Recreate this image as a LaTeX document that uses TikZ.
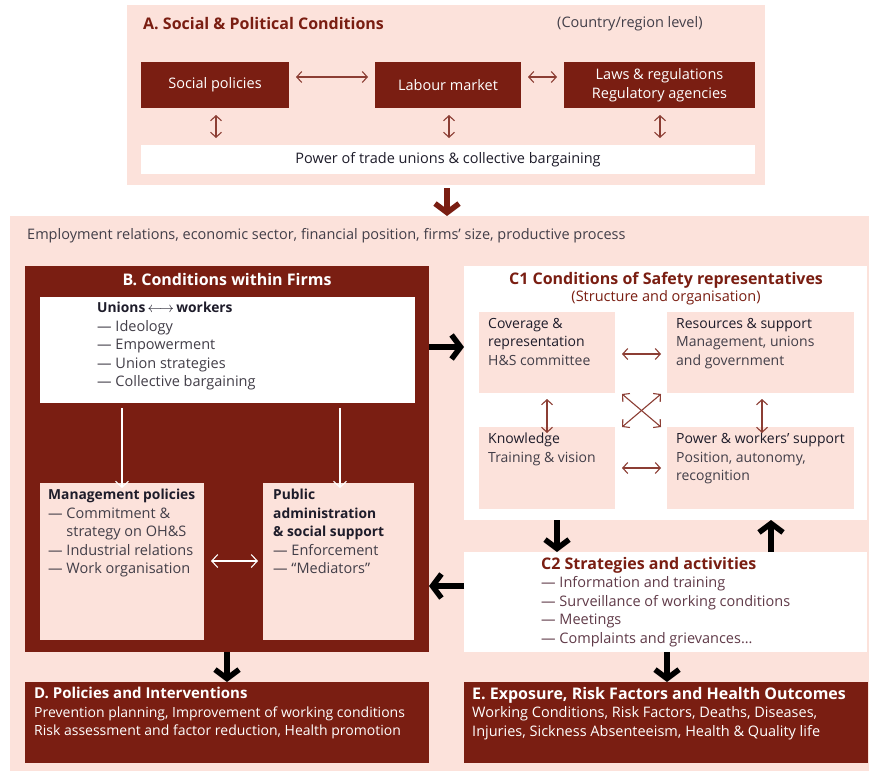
\documentclass[tikz,border=0pt]{standalone}
\usepackage{fontspec}
\setmainfont{Open Sans}
\usetikzlibrary{arrows.meta}
\definecolor{brn}{RGB}{122,30,18}
\definecolor{rose}{RGB}{252,226,219}
\definecolor{arrowbrn}{RGB}{140,62,52}
\definecolor{inktext}{RGB}{30,28,42}
\definecolor{greytext}{RGB}{66,62,72}
\definecolor{listtext}{RGB}{96,58,72}
\newcommand{\bodyfs}{\fontsize{14.5}{18.5}\selectfont}
\newcommand{\narrowfs}{\fontsize{14}{18.5}\selectfont}
\newcommand{\headfs}{\fontsize{13.8}{18.5}\selectfont\bfseries}
\newcommand{\titlefs}{\fontsize{16}{18.5}\selectfont\bfseries}
\begin{document}
\begin{tikzpicture}[x=1pt,y=-1pt,
  panel/.style={draw=none,inner sep=0,outer sep=0},
  pinkpanel/.style={panel,fill=rose},
  whitepanel/.style={panel,fill=white},
  darkpanel/.style={panel,fill=brn,text=white,font=\bodyfs,align=center},
  txt/.style={inner sep=0,anchor=north west,align=left,font=\bodyfs},
  thinarr/.style={draw=arrowbrn,line width=1.1pt,
    {Straight Barb[length=5pt,width=11pt]}-{Straight Barb[length=5pt,width=11pt]}},
  whitearr/.style={draw=white,line width=1.1pt,-{Straight Barb[length=6pt,width=13pt]}},
  whitedbl/.style={draw=white,line width=1.1pt,
    {Straight Barb[length=6pt,width=13pt]}-{Straight Barb[length=6pt,width=13pt]}},
  bigarr/.style={line width=5.5pt,-{Straight Barb[length=9pt,width=24pt]}},
]
\useasboundingbox (0,0) rectangle (869,771);

% ---------- A. Social & political conditions ----------
\node[pinkpanel,minimum width=638pt,minimum height=180pt] (A) at (446,95) {};
\node[txt,anchor=west,font=\titlefs,text=brn] (Atitle) at (143,24) {A. Social \& Political Conditions};
\node[txt,anchor=west,text=greytext] (Alevel) at (557,24) {(Country/region level)};
\node[darkpanel,minimum width=148pt,minimum height=46pt] (sp) at (215,85) {Social policies};
\node[darkpanel,minimum width=146pt,minimum height=46pt] (lm) at (448,85) {Labour market};
\node[darkpanel,minimum width=191pt,minimum height=46pt] (law) at (659.5,85) {Laws \& regulations\\[1pt]Regulatory agencies};
\node[whitepanel,minimum width=614pt,minimum height=29pt,font=\bodyfs,text=inktext] (tu) at (448,159.5) {Power of trade unions \& collective bargaining};

\coordinate (spE) at (296,77); \coordinate (lmW) at (368,77);
\coordinate (lmE) at (528,77); \coordinate (lawW) at (557,77);
\draw[thinarr] (spE) -- (lmW);
\draw[thinarr] (lmE) -- (lawW);
\draw[thinarr] (sp.south -| 216,0) ++(0,7) -- ++(0,23);
\draw[thinarr] (lm.south -| 449,0) ++(0,7) -- ++(0,23);
\draw[thinarr] (law.south -| 660,0) ++(0,7) -- ++(0,23);

% ---------- firm level ----------
\node[pinkpanel,minimum width=859pt,minimum height=555pt] (F) at (439.5,493.5) {};
\draw[bigarr,draw=brn] (A.south -| 447,0) ++(0,3) -- (F.north -| 447,0);
\node[txt,anchor=west,text=greytext] (Fctx) at (27,236) {Employment relations, economic sector, financial position, firms’ size, productive process};

% ---------- B. Conditions within firms ----------
\node[panel,fill=brn,minimum width=404pt,minimum height=386pt] (B) at (227,459) {};
\node[font=\titlefs,text=white,inner sep=0] (Btitle) at (227,280) {B. Conditions within Firms};
\node[whitepanel,minimum width=375pt,minimum height=106pt] (Bu) at (227.5,350) {};
\node[txt,text=greytext] (Butxt) at (97,302) {{\headfs\color{inktext}Unions\,$\longleftrightarrow$\,workers}\\
— Ideology\\— Empowerment\\— Union strategies\\— Collective bargaining};
\node[pinkpanel,minimum width=164pt,minimum height=157pt] (Bm) at (122,561.5) {};
\node[pinkpanel,minimum width=151pt,minimum height=157pt] (Bp) at (338.5,561.5) {};
\node[txt,text=greytext] (Bmtxt) at (48,489) {{\headfs\color{inktext}Management policies}\\
— Commitment \&\\\phantom{— }strategy on OH\&S\\— Industrial relations\\— Work organisation};
\node[txt,text=greytext] (Bptxt) at (273,489) {{\headfs\color{inktext}Public}\\{\headfs\color{inktext}administration}\\
{\headfs\color{inktext}\& social support}\\— Enforcement\\— “Mediators”};
\draw[whitearr] (Bu.south -| 122,0) ++(0,5) -- ([yshift=-5pt]Bm.north -| 122,0);
\draw[whitearr] (Bu.south -| 340,0) ++(0,5) -- ([yshift=-5pt]Bp.north -| 340,0);
\draw[whitedbl] (Bm.east |- 0,561) ++(7,0) -- ([xshift=-5pt]Bp.west |- 0,561);

% ---------- D. Policies and interventions ----------
\node[panel,fill=brn,minimum width=404pt,minimum height=81pt] (D) at (227,722.5) {};
\node[txt,text=white,font=\narrowfs] (Dtxt) at (34,687) {{\fontsize{15}{18.5}\selectfont\bfseries D. Policies and Interventions}\\
Prevention planning, Improvement of working conditions\\Risk assessment and factor reduction, Health promotion};
\draw[bigarr] (B.south -| 227,0) -- (D.north -| 227,0);

% ---------- C1. Safety representatives ----------
\node[whitepanel,minimum width=403pt,minimum height=254pt] (C1) at (665.5,393) {};
\node[font=\titlefs,text=brn,inner sep=0] (C1title) at (666,280) {C1 Conditions of Safety representatives};
\node[font=\bodyfs,text=brn,inner sep=0] (C1sub) at (666,297.5) {(Structure and organisation)};
\node[pinkpanel,minimum width=136pt,minimum height=81pt] (cov) at (547,352.5) {};
\node[pinkpanel,minimum width=187pt,minimum height=81pt] (res) at (760.5,352.5) {};
\node[pinkpanel,minimum width=136pt,minimum height=82pt] (kno) at (547,468) {};
\node[pinkpanel,minimum width=187pt,minimum height=82pt] (pow) at (760.5,468) {};
\node[txt,text=greytext,font=\narrowfs] (covtxt) at (488,318) {{\color{inktext}Coverage \&}\\{\color{inktext}representation}\\H\&S committee};
\node[txt,text=greytext,font=\narrowfs] (restxt) at (676,318) {{\color{inktext}Resources \& support}\\Management, unions\\and government};
\node[txt,text=greytext,font=\narrowfs] (knotxt) at (488,433) {{\color{inktext}Knowledge}\\Training \& vision};
\node[txt,text=greytext,font=\narrowfs] (powtxt) at (676,433) {{\color{inktext}Power \& workers’ support}\\Position, autonomy,\\recognition};
\draw[thinarr] (cov.east |- 0,354) ++(7,0) -- ([xshift=-6pt]res.west |- 0,354);
\draw[thinarr] (kno.east |- 0,468) ++(7,0) -- ([xshift=-6pt]pow.west |- 0,468);
\draw[thinarr] (cov.south -| 547,0) ++(0,6) -- ([yshift=-6pt]kno.north -| 547,0);
\draw[thinarr] (res.south -| 762,0) ++(0,6) -- ([yshift=-6pt]pow.north -| 762,0);
\coordinate (xa) at (622,394); \coordinate (xb) at (661,427);
\coordinate (xc) at (661,394); \coordinate (xd) at (622,427);
\draw[thinarr] (xa) -- (xb);
\draw[thinarr] (xc) -- (xd);
\draw[bigarr] (B.east |- 0,347) -- (C1.west |- 0,347);

% ---------- C2. Strategies and activities ----------
\node[whitepanel,minimum width=403pt,minimum height=100pt] (C2) at (665.5,602) {};
\node[txt,text=listtext] (C2txt) at (541,557) {{\titlefs\color{brn}C2 Strategies and activities}\\
— Information and training\\— Surveillance of working conditions\\— Meetings\\— Complaints and grievances…};
\draw[bigarr] (C1.south -| 557,0) -- (C2.north -| 557,0);
\draw[bigarr] (C2.north -| 771,0) -- (C1.south -| 771,0);
\draw[bigarr] (C2.west |- 0,586) -- (B.east |- 0,586);

% ---------- E. Exposure and outcomes ----------
\node[panel,fill=brn,minimum width=404pt,minimum height=81pt] (E) at (666,722.5) {};
\node[txt,text=white] (Etxt) at (472,687) {{\titlefs E. Exposure, Risk Factors and Health Outcomes}\\
Working Conditions, Risk Factors, Deaths, Diseases,\\Injuries, Sickness Absenteeism, Health \& Quality life};
\draw[bigarr] (C2.south -| 667,0) -- (E.north -| 667,0);
\end{tikzpicture}
\end{document}
